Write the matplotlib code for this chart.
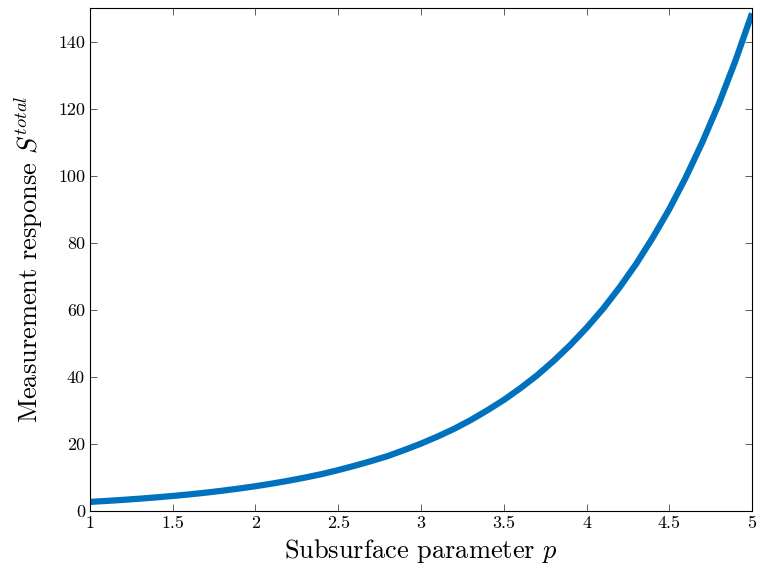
import matplotlib
matplotlib.use('Agg')
import matplotlib.pyplot as plt

# 數據
p_values = [1.0, 1.1, 1.2, 1.3, 1.4, 1.5, 1.6, 1.7, 1.8, 1.9,
            2.0, 2.1, 2.2, 2.3, 2.4, 2.5, 2.6, 2.7, 2.8, 2.9,
            3.0, 3.1, 3.2, 3.3, 3.4, 3.5, 3.6, 3.7, 3.8, 3.9,
            4.0, 4.1, 4.2, 4.3, 4.4, 4.5, 4.6, 4.7, 4.8, 4.9, 5.0]
s_total = [2.72, 3.00, 3.32, 3.67, 4.06, 4.48, 4.95, 5.47, 6.05, 6.69,
           7.39, 8.17, 9.03, 9.97, 11.0, 12.2, 13.5, 14.9, 16.4, 18.2,
           20.1, 22.2, 24.5, 27.1, 30.0, 33.1, 36.6, 40.4, 44.7, 49.4,
           54.6, 60.3, 66.7, 73.7, 81.5, 90.0, 99.5, 110.0, 121.5, 134.3, 148.4]
x_ticks = [1, 1.5, 2, 2.5, 3, 3.5, 4, 4.5, 5]
x_tick_labels = ['1', '1.5', '2', '2.5', '3', '3.5', '4', '4.5', '5']
y_ticks = [0, 20, 40, 60, 80, 100, 120, 140]

plt.rcParams['font.family'] = 'serif'
plt.rcParams['font.serif'] = ['cmr10', 'DejaVu Serif']
plt.rcParams['mathtext.fontset'] = 'cm'
plt.rcParams['axes.unicode_minus'] = False

fig = plt.figure(figsize=(7.6, 5.81), dpi=100)
ax = fig.add_axes([0.1184, 0.1205, 0.8711, 0.8657])

ax.plot(p_values, s_total, color='#0072BD', linewidth=4.5, solid_capstyle='butt')

ax.set_xlim(1, 5)
ax.set_ylim(0, 150)
ax.set_xticks(x_ticks)
ax.set_xticklabels(x_tick_labels)
ax.set_yticks(y_ticks)
ax.tick_params(direction='in', top=True, right=True, labelsize=13,
               length=5, width=0.6, color='#444444')
for spine in ax.spines.values():
    spine.set_linewidth(0.8)

ax.set_xlabel('Subsurface parameter $p$', fontsize=19, labelpad=4)
ax.set_ylabel('Measurement response $S^{total}$', fontsize=19, labelpad=9)

fig.savefig('out.png', dpi=100)
